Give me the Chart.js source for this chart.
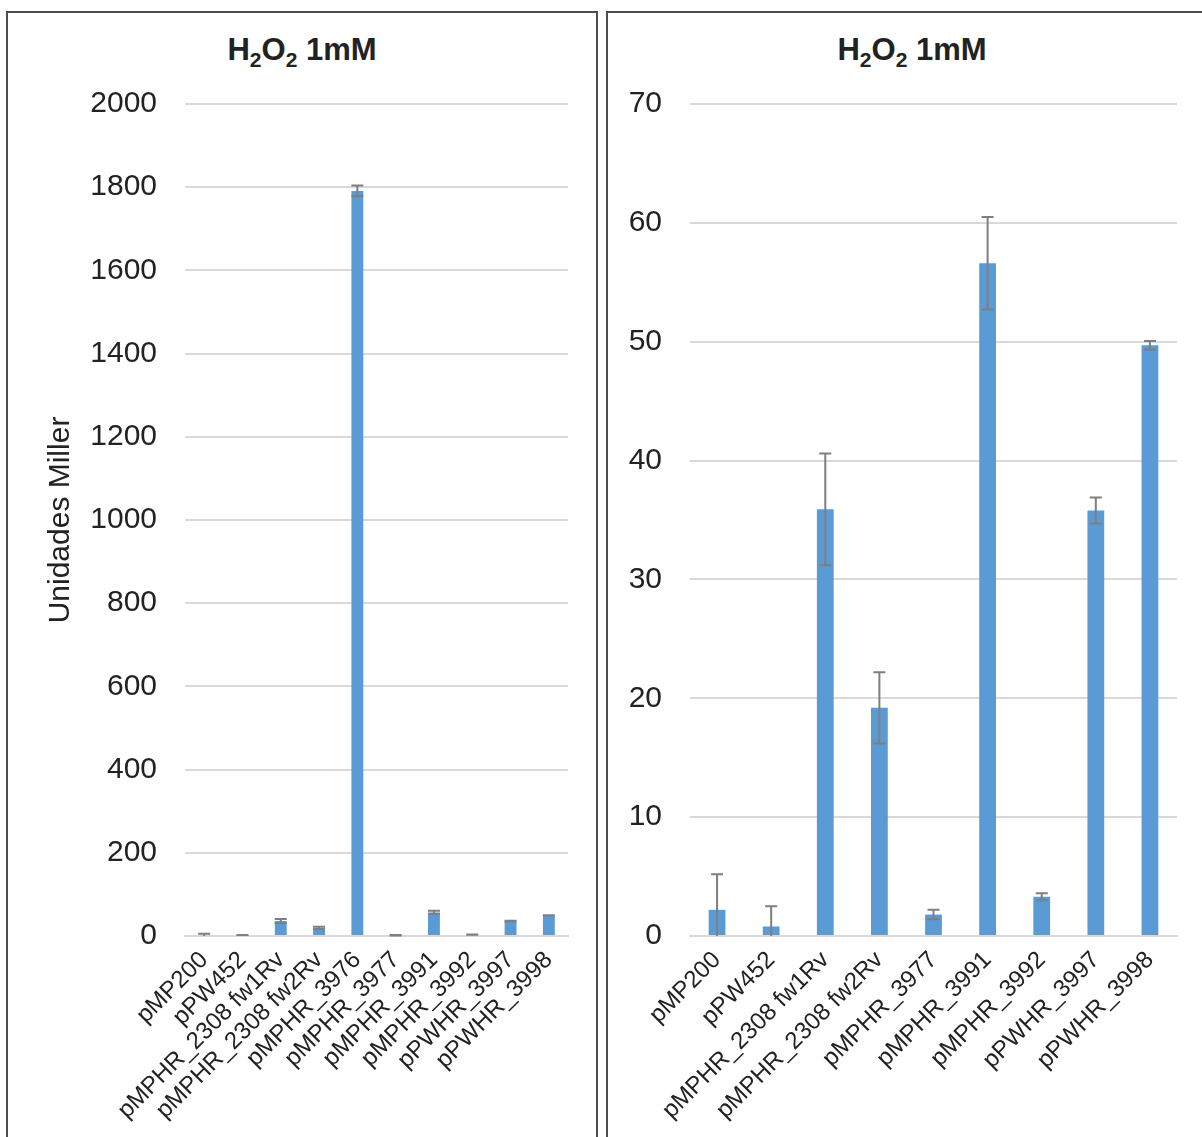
<!DOCTYPE html>
<html>
<head>
<meta charset="utf-8">
<script src="https://cdn.jsdelivr.net/npm/chart.js@4.4.1/dist/chart.umd.min.js"></script>
<style>
  body { margin: 0; background: #fff; width: 1202px; height: 1137px; overflow: hidden; position: relative; font-family: "Liberation Sans", Arial, sans-serif; }
  .panel { position: absolute; border: 2px solid #4d4d4d; background: #fff; }
  .panel canvas { position: absolute; left: 0; top: 0; }
  .ttl { position: absolute; left: 0; right: 0; top: 19px; text-align: center; font-weight: bold; font-size: 31px; color: #222; }
  .ttl sub { font-size: 21px; vertical-align: -7px; line-height: 0; }
</style>
</head>
<body>
<div class="panel" style="left:6px;top:11px;width:588px;height:1200px">
  <div class="ttl">H<sub>2</sub>O<sub>2</sub> 1mM</div>
  <canvas id="left" width="588" height="1124"></canvas>
</div>
<div class="panel" style="left:606px;top:11px;width:608px;height:1200px">
  <div class="ttl">H<sub>2</sub>O<sub>2</sub> 1mM</div>
  <canvas id="right" width="594" height="1124"></canvas>
</div>
<script>
const labelsAll = ['pMP200', 'pPW452', 'pMPHR_2308 fw1Rv', 'pMPHR_2308 fw2Rv', 'pMPHR_3976',
  'pMPHR_3977', 'pMPHR_3991', 'pMPHR_3992', 'pPWHR_3997', 'pPWHR_3998'];
const valuesAll = [2.2, 0.8, 35.9, 19.2, 1791, 1.8, 56.6, 3.3, 35.8, 49.7];
const errorsAll = [3.0, 1.7, 4.7, 3.0, 13, 0.4, 3.9, 0.3, 1.1, 0.35];

const labelsZoom = ['pMP200', 'pPW452', 'pMPHR_2308 fw1Rv', 'pMPHR_2308 fw2Rv',
  'pMPHR_3977', 'pMPHR_3991', 'pMPHR_3992', 'pPWHR_3997', 'pPWHR_3998'];
const valuesZoom = [2.2, 0.8, 35.9, 19.2, 1.8, 56.6, 3.3, 35.8, 49.7];
const errorsZoom = [3.0, 1.7, 4.7, 3.0, 0.4, 3.9, 0.3, 1.1, 0.35];

const leftTicks = { max: 2000, step: 200 };
const rightTicks = { max: 70, step: 10 };

// draws the +/- error bars on top of each bar, using the y scale
const errorBars = {
  id: 'errorBars',
  afterDatasetsDraw(chart) {
    const ctx = chart.ctx;
    const yScale = chart.scales.y;
    const errs = chart.options.plugins.errorBars.errors;
    const vals = chart.data.datasets[0].data;
    const meta = chart.getDatasetMeta(0);
    ctx.save();
    ctx.strokeStyle = '#7f7f7f';
    ctx.lineWidth = 2;
    meta.data.forEach((bar, i) => {
      const x = bar.x;
      const yTop = yScale.getPixelForValue(vals[i] + errs[i]);
      const yBot = yScale.getPixelForValue(Math.max(0, vals[i] - errs[i]));
      const cap = 6;
      ctx.beginPath();
      ctx.moveTo(x, yTop); ctx.lineTo(x, yBot);
      ctx.moveTo(x - cap, yTop); ctx.lineTo(x + cap, yTop);
      if (vals[i] - errs[i] > 0) {
        ctx.moveTo(x - cap, yBot); ctx.lineTo(x + cap, yBot);
      }
      ctx.stroke();
    });
    ctx.restore();
  }
};

function makeChart(id, labels, values, errors, ticks, opts) {
  return new Chart(document.getElementById(id), {
    type: 'bar',
    data: {
      labels: labels,
      datasets: [{
        data: values,
        backgroundColor: '#5b9bd5',
        borderWidth: 0,
        categoryPercentage: 1,
        barPercentage: 0.31
      }]
    },
    options: {
      responsive: false,
      animation: false,
      layout: { padding: { top: 91, right: opts.padRight, left: 0, bottom: 0 } },
      plugins: {
        legend: { display: false },
        tooltip: { enabled: false },
        errorBars: { errors: errors }
      },
      scales: {
        x: {
          grid: { display: false, drawTicks: false },
          border: { color: '#d9d9d9', width: 2 },
          ticks: {
            autoSkip: false, minRotation: 45, maxRotation: 45, padding: 10,
            color: '#222', font: { family: 'Liberation Sans', size: 24 }
          },
          afterFit: s => { s.height = 201; }
        },
        y: {
          min: 0, max: ticks.max,
          grid: { color: '#d9d9d9', lineWidth: 2, drawTicks: false },
          border: { display: false },
          ticks: {
            stepSize: ticks.step, padding: 28,
            color: '#222', font: { family: 'Liberation Sans', size: 30 },
            callback: v => String(v)
          },
          title: {
            display: !!opts.yTitle, text: opts.yTitle || '',
            color: '#222', font: { family: 'Liberation Sans', size: 30 },
            padding: { top: 35, bottom: 0 }
          },
          afterFit: s => { s.width = opts.yWidth; }
        }
      }
    },
    plugins: [errorBars]
  });
}

makeChart('left', labelsAll, valuesAll, errorsAll, leftTicks,
  { padRight: 28, yWidth: 177, yTitle: 'Unidades Miller' });
makeChart('right', labelsZoom, valuesZoom, errorsZoom, rightTicks,
  { padRight: 25, yWidth: 82 });
</script>
</body>
</html>
